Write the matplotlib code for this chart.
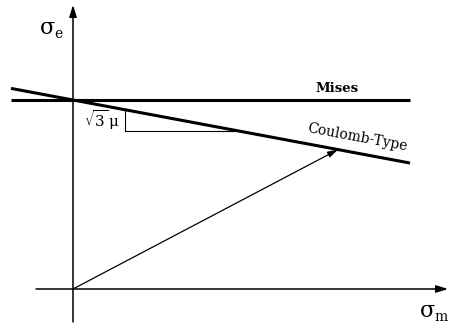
import numpy as np
import matplotlib
matplotlib.use("Agg")
import matplotlib.pyplot as plt

# Yield criteria in the (sigma_m, sigma_e) plane
k = 189.0                       # Mises level (sigma_e at sigma_m = 0)
mu = 0.108                      # friction coefficient; slope of Coulomb line = sqrt(3)*mu
slope = np.sqrt(3) * mu
line_range = [-62.0, 337.0]     # sigma_m extent of both criterion lines
triangle_x = [52.0, 167.0]      # slope triangle legs (sigma_m)
load_tip = 265.0                # sigma_m where the load path meets the Coulomb line

fig = plt.figure(figsize=(4.49, 3.26), dpi=100)
ax = fig.add_axes([0, 0, 1, 1])
ax.set_xlim(-73, 376)
ax.set_ylim(-37, 289)
ax.axis("off")

serif = "DejaVu Serif"
plt.rcParams["mathtext.fontset"] = "dejavuserif"

# coordinate axes with arrowheads
arrow_kw = dict(arrowstyle="-|>,head_length=0.7,head_width=0.22", color="black", lw=1.1,
                shrinkA=0, shrinkB=0)
ax.annotate("", xy=(375, 0), xytext=(-37, 0), arrowprops=arrow_kw)
ax.annotate("", xy=(0, 284), xytext=(0, -33), arrowprops=arrow_kw)

# axis labels: upright sigma with subscript
ax.text(-33, 261, "σ", fontsize=16, family=serif, ha="left", va="center")
ax.text(-19, 255, "e", fontsize=10, family=serif, ha="left", va="center")
ax.text(347, -22, "σ", fontsize=16, family=serif, ha="left", va="center")
ax.text(361, -28, "m", fontsize=10, family=serif, ha="left", va="center")

xs = np.array(line_range)
# Mises
ax.plot(xs, [k, k], color="black", lw=2.2, solid_capstyle="butt")
ax.text(264, 200, "Mises", fontsize=9.5, family=serif, fontweight="bold", ha="center", va="center")
# Coulomb-type
ax.plot(xs, k - slope * xs, color="black", lw=2.2, solid_capstyle="butt")
ang = np.degrees(np.arctan(slope))
ax.text(284, k - slope * 284 + 16, "Coulomb-Type", fontsize=10, family=serif,
        rotation=-ang, rotation_mode="anchor", ha="center", va="center")

# slope triangle
x0, x1 = triangle_x
ax.plot([x0, x0, x1], [k - slope * x0, k - slope * x1, k - slope * x1],
        color="black", lw=0.8)
ax.text(x0 - 5, k - slope * x0 - 10, r"$\sqrt{3}\,$μ", fontsize=11, family=serif,
        ha="right", va="center")

# load path
ax.annotate("", xy=(load_tip, k - slope * load_tip), xytext=(0, 0),
            arrowprops=dict(arrowstyle="-|>,head_length=0.6,head_width=0.18",
                            color="black", lw=0.9, shrinkA=0, shrinkB=0))

fig.savefig("out.png", dpi=100)
